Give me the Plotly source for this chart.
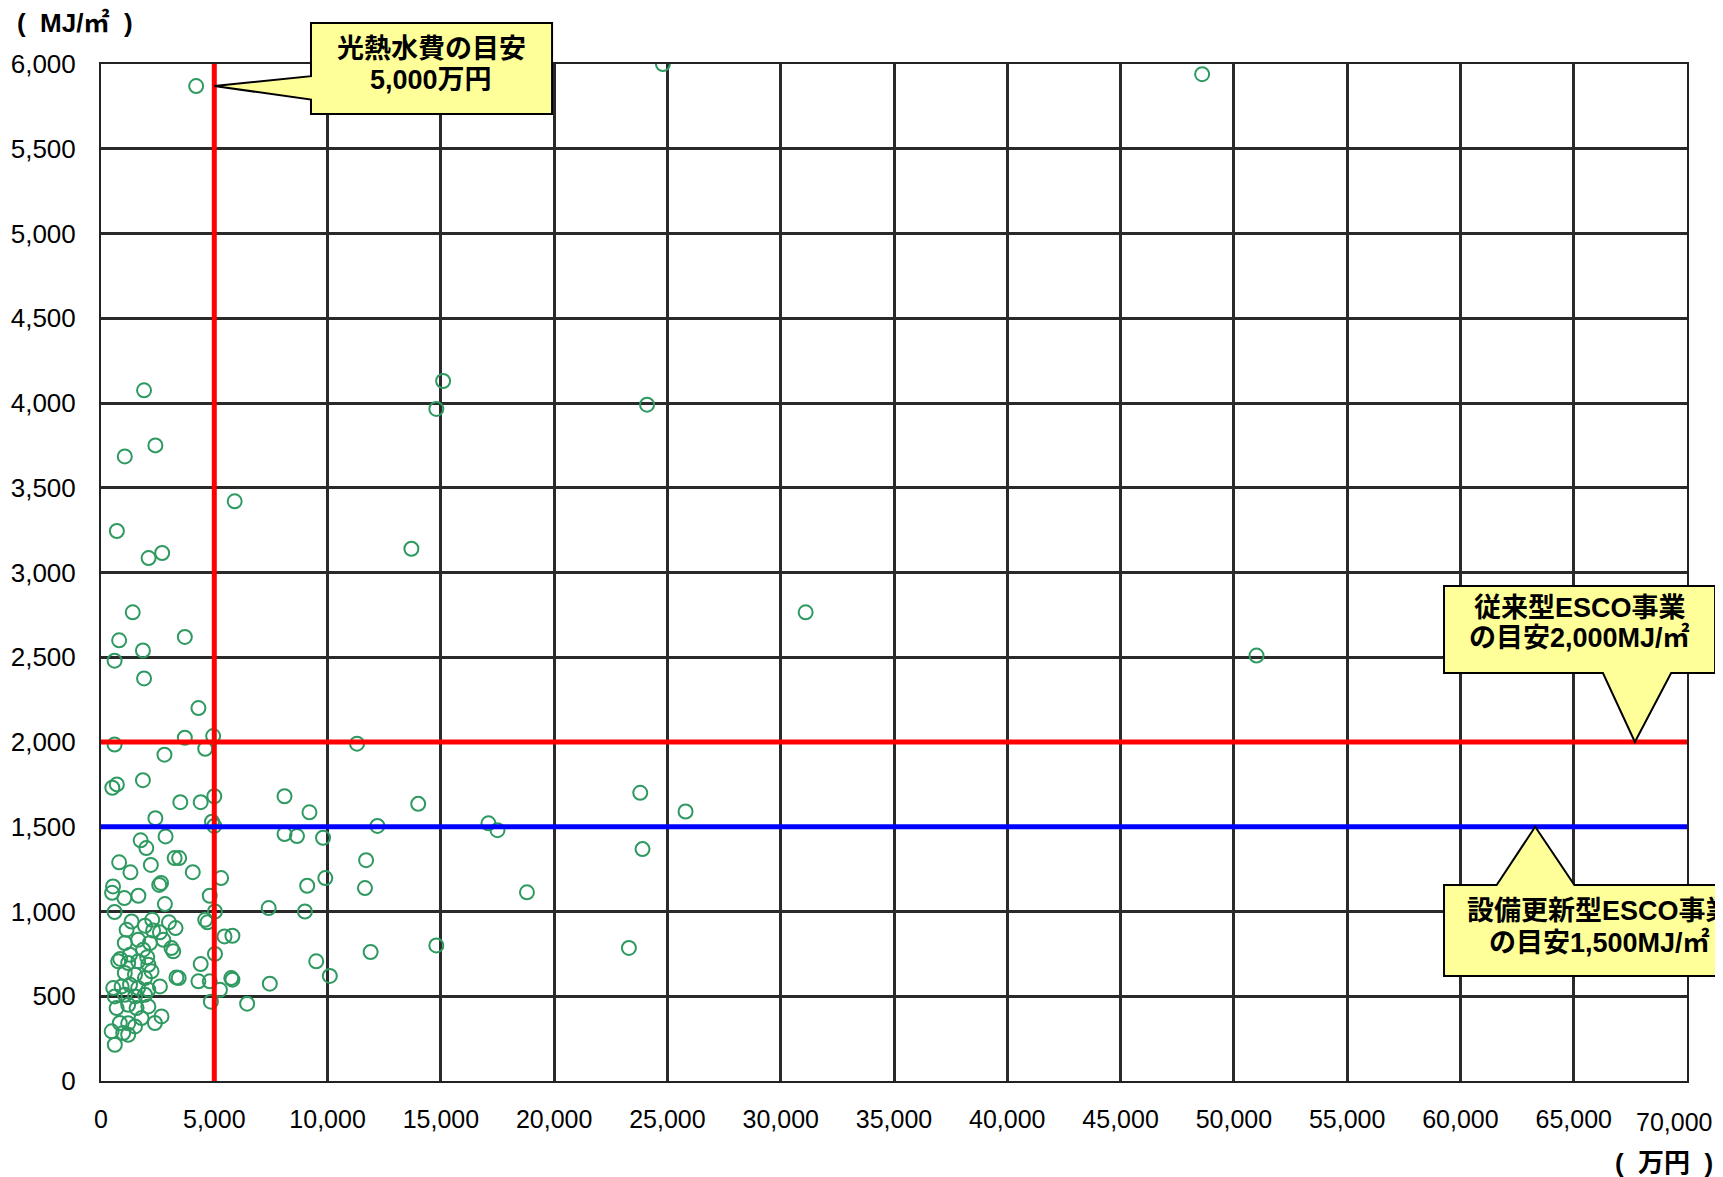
import plotly.graph_objects as go

# ---- data (cost: 万円, energy intensity: MJ/㎡) ----
cost_x = [
    4200, 24800, 48600,
    1900, 15100, 14800, 24100,
    1050, 2400, 5900, 700, 2700, 2100, 13700,
    1400, 31100, 800, 3700, 600, 1850, 1900, 51000,
    4300, 600, 3700, 4950, 4600, 2800, 11300,
    500, 700, 1850, 3500, 4400, 5000, 8100, 14000, 23800,
    9200, 25800, 2400, 4900, 5000, 12200, 17100, 17500,
    2850, 1750, 2000, 8100, 8650, 9800, 23900,
    800, 3250, 3450, 2200, 11700,
    1300, 4050, 5300, 9900,
    530, 490, 2570, 2650, 1650, 1030, 9100, 11650, 18800,
    4800, 600, 5030, 7400, 9000, 2820,
    4600, 4700, 5450, 5800, 5030, 4400, 3430,
    4300, 4800, 5250, 5750, 5800, 4850, 6450, 7450,
    9500, 11900, 14800, 23300, 10100,
    1350, 1130, 1940, 2260, 3000, 3290, 2300, 2600,
    1050, 1640, 2160, 2750, 3110, 3190, 1860, 1280, 2040, 850,
    760, 1200, 1640, 2090, 2230, 1050, 1500, 1940, 3330,
    2600, 540, 910, 1280, 1640, 2090,
    610, 1050, 1500, 1940,
    690, 1200, 1570, 2090, 2670, 2380, 1790, 1500, 830, 980, 610, 1200, 470, 1200,
]
energy_y = [
    5870, 6000, 5940,
    4075, 4130, 3965, 3990,
    3685, 3750, 3420, 3245, 3115, 3085, 3140,
    2765, 2765, 2600, 2620, 2480, 2540, 2375, 2510,
    2200, 1985, 2025, 2035, 1960, 1925, 1990,
    1730, 1750, 1775, 1645, 1645, 1680, 1680, 1635, 1700,
    1585, 1590, 1550, 1530, 1505, 1505, 1520, 1480,
    1443, 1420, 1374, 1457, 1445, 1435, 1368,
    1290, 1315, 1315, 1275, 1303,
    1231, 1232, 1197, 1197,
    1148, 1110, 1157, 1168, 1093, 1079, 1152, 1138, 1113,
    1093, 997, 1000, 1020, 1000, 1044,
    951, 936, 853, 857, 750, 690, 607,
    588, 588, 538, 607, 598, 468, 456, 574,
    706, 761, 800, 785, 620,
    941, 892, 916, 951, 936, 902, 888, 877,
    814, 833, 814, 833, 784, 765, 775, 745, 730, 720,
    706, 696, 706, 686, 647, 637, 627, 607, 611,
    558, 548, 558, 568, 548, 538,
    499, 509, 499, 509,
    430, 450, 430, 440, 381, 342, 371, 322, 342, 283, 214, 273, 293, 340,
]

# guide values
cost_guide = 5000          # 光熱水費の目安 (万円)
conv_guide = 2000          # 従来型ESCO事業の目安 (MJ/㎡)
renew_guide = 1500         # 設備更新型ESCO事業の目安 (MJ/㎡)

x_range = [0, 70000]
y_range = [0, 6000]
x_ticks = list(range(0, 70001, 5000))
x_ticklabels = [f"{v:,}" for v in x_ticks]

FONT = "Arial, 'Liberation Sans', 'Noto Sans CJK JP', sans-serif"
XTICK_SIZE = 25

fig = go.Figure()

fig.add_trace(go.Scatter(
    x=cost_x, y=energy_y, mode="markers",
    marker=dict(symbol="circle-open", size=14, color="#2E9960",
                line=dict(width=2, color="#2E9960")),
    showlegend=False, hoverinfo="x+y",
))

# guide lines (drawn above markers)
fig.add_trace(go.Scatter(x=[cost_guide, cost_guide], y=y_range, mode="lines",
                         line=dict(color="#FF0000", width=5), showlegend=False))
fig.add_trace(go.Scatter(x=x_range, y=[conv_guide, conv_guide], mode="lines",
                         line=dict(color="#FF0000", width=5), showlegend=False))
fig.add_trace(go.Scatter(x=x_range, y=[renew_guide, renew_guide], mode="lines",
                         line=dict(color="#0000FF", width=5), showlegend=False))


def px(v):  # data x -> paper
    return (v - x_range[0]) / (x_range[1] - x_range[0])


def py(v):  # data y -> paper
    return (v - y_range[0]) / (y_range[1] - y_range[0])


def path(points):
    return "M " + " L ".join(f"{a},{b}" for a, b in points) + " Z"


def callout(points):
    fig.add_shape(type="path", path=path(points), xref="paper", yref="paper",
                  fillcolor="#FFFF99", line=dict(color="#000000", width=2),
                  layer="above")


# Callout 1: 光熱水費の目安 (pointer to the left)
b1 = dict(x0=0.1324, x1=0.2844, y0=0.9508, y1=1.0403)
callout([
    (b1["x0"], b1["y1"]), (b1["x1"], b1["y1"]), (b1["x1"], b1["y0"]),
    (b1["x0"], b1["y0"]), (b1["x0"], 0.965),
    (px(cost_guide), py(5870)),
    (b1["x0"], 0.988),
])

# Callout 2: 従来型ESCO事業 (pointer down)
b2 = dict(x0=0.8468, x1=1.0177, y0=0.4012, y1=0.4867)
callout([
    (b2["x0"], b2["y1"]), (b2["x1"], b2["y1"]), (b2["x1"], b2["y0"]),
    (0.990, b2["y0"]), (px(67700), py(conv_guide)), (0.947, b2["y0"]),
    (b2["x0"], b2["y0"]),
])

# Callout 3: 設備更新型ESCO事業 (pointer up)
b3 = dict(x0=0.8468, x1=1.08, y0=0.1032, y1=0.1927)
callout([
    (b3["x0"], b3["y1"]), (0.880, b3["y1"]), (px(63300), py(renew_guide)),
    (0.929, b3["y1"]), (b3["x1"], b3["y1"]), (b3["x1"], b3["y0"]),
    (b3["x0"], b3["y0"]),
])


def label(text, x, y, size=27, xanchor="center"):
    fig.add_annotation(text=f"<b>{text}</b>", x=x, y=y, xref="paper", yref="paper",
                       xanchor=xanchor, yanchor="middle", showarrow=False,
                       font=dict(family=FONT, size=size, color="#000000"))


label("光熱水費の目安", 0.2081, 1.0143)
label("5,000万円", 0.2081, 0.9840)
label("従来型ESCO事業", 0.9325, 0.4651)
label("の目安2,000MJ/㎡", 0.9325, 0.4356)
label("設備更新型ESCO事業", 0.9451, 0.1672)
label("の目安1,500MJ/㎡", 0.9451, 0.1357)

# axis unit labels
NB = "\u00a0"
label(f"({NB}{NB}MJ/㎡{NB}{NB})", -0.0545, 1.040, size=26, xanchor="left")
label(f"({NB}{NB}万円{NB}{NB})", 1.0175, -0.0806, size=26, xanchor="right")

# last x tick label: pulled slightly left so it stays inside the page (as in the original)
axis_ticktext = x_ticklabels[:-1] + [""]
fig.add_annotation(text=x_ticklabels[-1], x=x_ticks[-1], xref="x", y=-0.0400, yref="paper",
                   xanchor="center", yanchor="middle", xshift=-13, showarrow=False,
                   font=dict(family=FONT, size=XTICK_SIZE, color="#000000"))

axis_common = dict(showline=True, linecolor="#222222", linewidth=2, mirror=True,
                   showgrid=True, gridcolor="#2a2a2a", gridwidth=3, zeroline=False,
                   ticks="", tickformat=",", ticklabeloverflow="allow", automargin=False)

fig.update_xaxes(range=x_range, tickvals=x_ticks, ticktext=axis_ticktext,
                 ticklabelstandoff=15,
                 tickfont=dict(family=FONT, size=XTICK_SIZE, color="#000000"), **axis_common)
fig.update_yaxes(range=y_range, dtick=500, tick0=0, ticklabelstandoff=18,
                 tickfont=dict(family=FONT, size=26, color="#000000"), **axis_common)

fig.update_layout(
    width=1723, height=1177,
    margin=dict(l=93, r=44, t=56, b=104, autoexpand=False),
    paper_bgcolor="#FFFFFF", plot_bgcolor="#FFFFFF",
    showlegend=False,
)

fig.write_html("out.html")
